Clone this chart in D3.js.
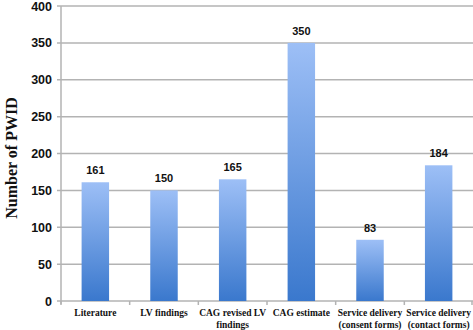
<!DOCTYPE html>
<html><head><meta charset="utf-8">
<script src="https://cdn.jsdelivr.net/npm/d3@7"></script>
<style>body{margin:0;background:#fff}</style>
</head><body>
<svg id="c" width="473" height="330"></svg>
<script>
const categories = [["Literature"],["LV findings"],["CAG revised LV","findings"],["CAG estimate"],["Service delivery","(consent forms)"],["Service delivery","(contact forms)"]];
const values = [161,150,165,350,83,184];
const yTicks = [0,50,100,150,200,250,300,350,400];

const svg = d3.select("#c");
const m = {l:61, r:473, t:6, b:301};
const x = d3.scaleBand().domain(d3.range(values.length)).range([m.l, m.r]).paddingInner(0.6).paddingOuter(0.3);
const xb = d3.scaleBand().domain(d3.range(values.length)).range([m.l, m.r]);
const y = d3.scaleLinear().domain([0,400]).range([m.b, m.t]);

const defs = svg.append("defs");
const g = defs.append("linearGradient").attr("id","bg").attr("x1",0).attr("y1",0).attr("x2",0).attr("y2",1);
g.append("stop").attr("offset","0%").attr("stop-color","#9dbff6");
g.append("stop").attr("offset","100%").attr("stop-color","#3a78cd");

// gridlines
svg.append("g").selectAll("line").data(yTicks).join("line")
  .attr("x1", m.l-4).attr("x2", m.r).attr("y1", d=>y(d)).attr("y2", d=>y(d))
  .attr("stroke","#b3b3b3").attr("stroke-width",1.5);
// axis line
svg.append("line").attr("x1",m.l).attr("x2",m.l).attr("y1",m.t).attr("y2",m.b+3).attr("stroke","#b3b3b3").attr("stroke-width",1.5);
// bottom ticks
svg.append("g").selectAll("line").data(d3.range(values.length+1)).join("line")
  .attr("x1", d=> d<values.length? xb(d): m.r-1).attr("x2", d=> d<values.length? xb(d): m.r-1)
  .attr("y1", m.b).attr("y2", m.b+4).attr("stroke","#b3b3b3").attr("stroke-width",1.5);

// y tick labels
svg.append("g").selectAll("text").data(yTicks).join("text")
  .attr("x", 52).attr("y", d=>y(d)+4.5).attr("text-anchor","end")
  .attr("font-family","Liberation Sans, Arial, sans-serif").attr("font-weight","bold").attr("font-size",12.5)
  .attr("fill","#111").text(d=>d);

// bars
svg.append("g").selectAll("rect").data(values).join("rect")
  .attr("x",(d,i)=>x(i)).attr("width",x.bandwidth())
  .attr("y",d=>y(d)).attr("height",d=>m.b-y(d)).attr("fill","url(#bg)");

// value labels
svg.append("g").selectAll("text").data(values).join("text")
  .attr("x",(d,i)=>x(i)+x.bandwidth()/2).attr("y",d=>y(d)-8).attr("text-anchor","middle")
  .attr("font-family","Liberation Sans, Arial, sans-serif").attr("font-weight","bold").attr("font-size",11)
  .attr("fill","#111").text(d=>d);

// category labels
const cl = svg.append("g").selectAll("text").data(categories).join("text")
  .attr("text-anchor","middle").attr("font-family","Liberation Serif, Times New Roman, serif")
  .attr("font-weight","bold").attr("font-size",9.5).attr("fill","#111");
cl.each(function(d,i){
  const t = d3.select(this);
  d.forEach((s,j)=>t.append("tspan").attr("x", xb(i)+xb.bandwidth()/2).attr("y", 316+j*12).text(s));
});

// y title
svg.append("text").attr("transform","translate(17,158) rotate(-90)").attr("text-anchor","middle")
  .attr("font-family","Liberation Serif, Times New Roman, serif").attr("font-weight","bold").attr("font-size",16)
  .attr("fill","#111").text("Number of PWID");
</script>
</body></html>
